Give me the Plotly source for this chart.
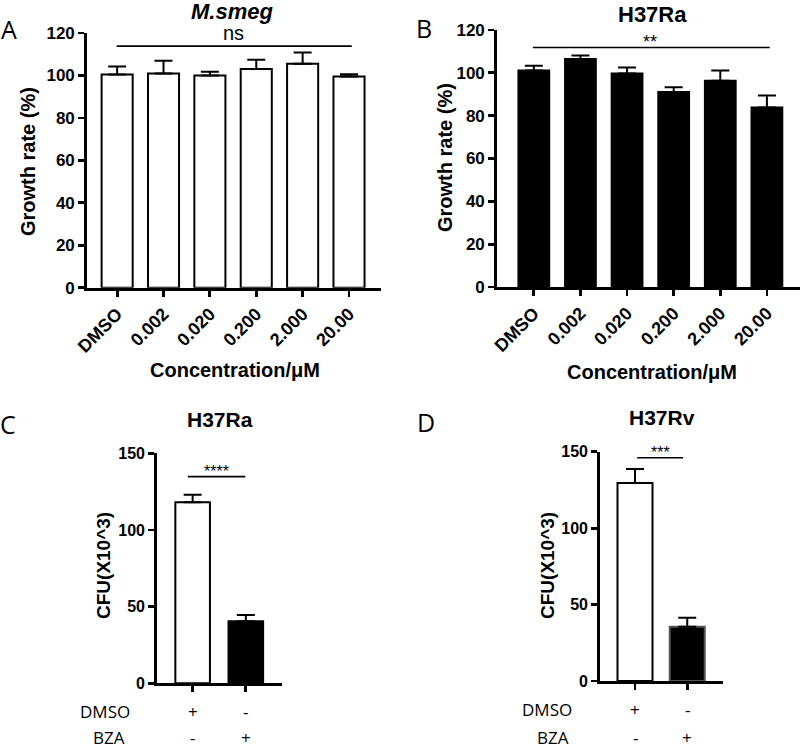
import plotly.graph_objects as go

# ---------------- data ----------------
conc_labels = ["DMSO", "0.002", "0.020", "0.200", "2.000", "20.00"]
msmeg_growth = [100.4, 100.9, 100.0, 103.0, 105.5, 99.5]
msmeg_err = [3.8, 6.0, 1.7, 4.4, 5.3, 1.1]
h37ra_growth = [101.1, 106.5, 99.7, 91.1, 96.3, 83.8]
h37ra_err = [2.2, 1.6, 2.8, 2.2, 4.8, 5.6]

cfu_groups = ["DMSO", "BZA"]
h37ra_cfu = [118.0, 40.4]
h37ra_cfu_err = [5.0, 4.1]
h37rv_cfu = [129.6, 35.5]
h37rv_cfu_err = [9.1, 5.9]
dmso_row = ["+", "-"]
bza_row = ["-", "+"]

W, H = 800, 748
BOLD = "Liberation Sans"
REG = "Open Sans"


def px(x):
    return x / W


def py(y):
    return 1 - y / H


fig = go.Figure()

err_style = dict(type="data", symmetric=False, color="black", thickness=2, width=9)

fig.add_trace(go.Bar(
    x=list(range(len(conc_labels))), y=msmeg_growth, width=0.67,
    marker=dict(color="white", line=dict(color="black", width=2)),
    error_y=dict(array=msmeg_err, arrayminus=[0] * len(msmeg_err), **err_style),
    xaxis="x", yaxis="y", showlegend=False, hoverinfo="skip"))

fig.add_trace(go.Bar(
    x=list(range(len(conc_labels))), y=h37ra_growth, width=0.66,
    marker=dict(color="black", line=dict(color="black", width=2)),
    error_y=dict(array=h37ra_err, arrayminus=[0] * len(h37ra_err), **err_style),
    xaxis="x2", yaxis="y2", showlegend=False, hoverinfo="skip"))

fig.add_trace(go.Bar(
    x=[0, 1], y=h37ra_cfu, width=0.65,
    marker=dict(color=["white", "black"], line=dict(color="black", width=2)),
    error_y=dict(array=h37ra_cfu_err, arrayminus=[0, 0], **err_style),
    xaxis="x3", yaxis="y3", showlegend=False, hoverinfo="skip"))

fig.add_trace(go.Bar(
    x=[0, 1], y=h37rv_cfu, width=0.67,
    marker=dict(color=["white", "black"], line=dict(color=["black", "#555555"], width=2)),
    error_y=dict(array=h37rv_cfu_err, arrayminus=[0, 0], **err_style),
    xaxis="x4", yaxis="y4", showlegend=False, hoverinfo="skip"))

axis_common = dict(showline=True, linecolor="black", linewidth=2.8, ticks="outside",
                   ticklen=6, tickwidth=2.8, tickcolor="black", showgrid=False,
                   zeroline=False, fixedrange=True, automargin=False)

ytick_big = dict(family=BOLD, size=17, color="black", weight="bold")
ytick_small = dict(family=BOLD, size=16, color="black", weight="bold")
xtick_font = dict(family=BOLD, size=18, color="black", weight="bold")

fig.update_layout(
    width=W, height=H, margin=dict(l=0, r=0, t=0, b=0, autoexpand=False),
    paper_bgcolor="white", plot_bgcolor="white", barmode="overlay",
    xaxis=dict(domain=[px(87), px(381)], range=[-0.65, 5.69], anchor="y",
               tickvals=list(range(6)), ticktext=conc_labels, tickangle=-45,
               tickfont=xtick_font, **axis_common),
    yaxis=dict(domain=[py(287.7), py(33)], range=[0, 120], anchor="x",
               tickvals=[0, 20, 40, 60, 80, 100, 120], tickfont=ytick_big, **axis_common),
    xaxis2=dict(domain=[px(497), 1.0], range=[-0.79, 5.71], anchor="y2",
                tickvals=list(range(6)), ticktext=conc_labels, tickangle=-45,
                tickfont=xtick_font, **axis_common),
    yaxis2=dict(domain=[py(287), py(30)], range=[0, 120], anchor="x2",
                tickvals=[0, 20, 40, 60, 80, 100, 120], tickfont=ytick_big, **axis_common),
    xaxis3=dict(domain=[px(157), px(282)], range=[-0.67, 1.68], anchor="y3",
                tickvals=[0, 1], ticktext=["", ""], **axis_common),
    yaxis3=dict(domain=[py(683.3), py(453.3)], range=[0, 150], anchor="x3",
                tickvals=[0, 50, 100, 150], tickfont=ytick_small, **axis_common),
    xaxis4=dict(domain=[px(600), px(723.3)], range=[-0.67, 1.69], anchor="y4",
                tickvals=[0, 1], ticktext=["", ""], **axis_common),
    yaxis4=dict(domain=[py(681), py(451.7)], range=[0, 150], anchor="x4",
                tickvals=[0, 50, 100, 150], tickfont=ytick_small, **axis_common),
)

# significance brackets
brackets = [
    ("x", "y", -0.01, 5.06, 113.8),
    ("x2", "y2", -0.02, 5.06, 111.8),
    ("x3", "y3", -0.09, 0.99, 134.8),
    ("x4", "y4", 0.04, 0.92, 146.0),
]
for xr, yr, x0, x1, yv in brackets:
    fig.add_shape(type="line", xref=xr, yref=yr, x0=x0, x1=x1, y0=yv, y1=yv,
                  line=dict(color="black", width=1.6))

ann = []


def add_text(text, x, y, size, family=BOLD, bold=False, italic=False, angle=0,
             xref="paper", yref="paper", xanchor="center", yanchor="middle", yshift=0,
             borderpad=1):
    ann.append(dict(text=text, x=x, y=y, xref=xref, yref=yref, showarrow=False,
                    textangle=angle, xanchor=xanchor, yanchor=yanchor, yshift=yshift,
                    borderpad=borderpad,
                    font=dict(family=family, size=size, color="black",
                              weight="bold" if bold else "normal",
                              style="italic" if italic else "normal")))


# significance text
add_text("ns", 2.5, 113.8, 20, family=BOLD, xref="x", yref="y", yanchor="bottom")
add_text("**", 2.5, 111.8, 18, family=BOLD, xref="x2", yref="y2", yanchor="bottom", yshift=-6)
add_text("****", 0.45, 134.8, 16, family=BOLD, xref="x3", yref="y3", yanchor="bottom", yshift=-5)
add_text("***", 0.48, 146.0, 16, family=BOLD, xref="x4", yref="y4", yanchor="bottom", yshift=-5)

# titles
add_text("M.smeg", px(232), py(12), 22, bold=True, italic=True)
add_text("H37Ra", px(652), py(15), 22, bold=True)
add_text("H37Ra", px(220), py(419), 21, bold=True)
add_text("H37Rv", px(662), py(417), 21, bold=True)

# panel letters
add_text("A", px(8.5), py(29), 25, family=REG)
add_text("B", px(424), py(28.5), 25, family=REG)
add_text("C", px(8), py(424), 25, family=REG)
add_text("D", px(426), py(422), 25, family=REG)

# axis titles
add_text("Growth rate (%)", px(28), py(162), 20, bold=True, angle=-90)
add_text("Growth rate (%)", px(445), py(158), 20, bold=True, angle=-90)
add_text("Concentration/μM", px(235), py(370), 20, bold=True)
add_text("Concentration/μM", px(652), py(372), 20, bold=True)
add_text("CFU(X10^3)", px(103), py(566), 19, bold=True, angle=-90)
add_text("CFU(X10^3)", px(547), py(566), 19, bold=True, angle=-90)

# treatment rows
ROW1_C, ROW2_C = 711.7, 737.0
ROW1_D, ROW2_D = 709.7, 737.0
add_text("DMSO", px(105), py(ROW1_C), 17, family=REG, borderpad=0)
add_text("BZA", px(108.7), py(ROW2_C), 17, family=REG, borderpad=0)
add_text("DMSO", px(547.3), py(ROW1_D), 17, family=REG, borderpad=0)
add_text("BZA", px(552.5), py(ROW2_D), 17, family=REG, borderpad=0)
for i in range(2):
    add_text(dmso_row[i], i, py(ROW1_C), 17, family=REG, xref="x3", borderpad=0)
    add_text(bza_row[i], i, py(ROW2_C), 17, family=REG, xref="x3", borderpad=0)
    add_text(dmso_row[i], i, py(ROW1_D), 17, family=REG, xref="x4", borderpad=0)
    add_text(bza_row[i], i, py(ROW2_D), 17, family=REG, xref="x4", borderpad=0)

fig.update_layout(annotations=ann)

fig.write_html(
    "out.html",
    config={"displayModeBar": False, "staticPlot": True},
    post_script="document.documentElement.style.margin='0';"
                "document.body.style.margin='0';"
                "document.body.style.padding='0';"
                "document.body.style.overflow='hidden';",
)
